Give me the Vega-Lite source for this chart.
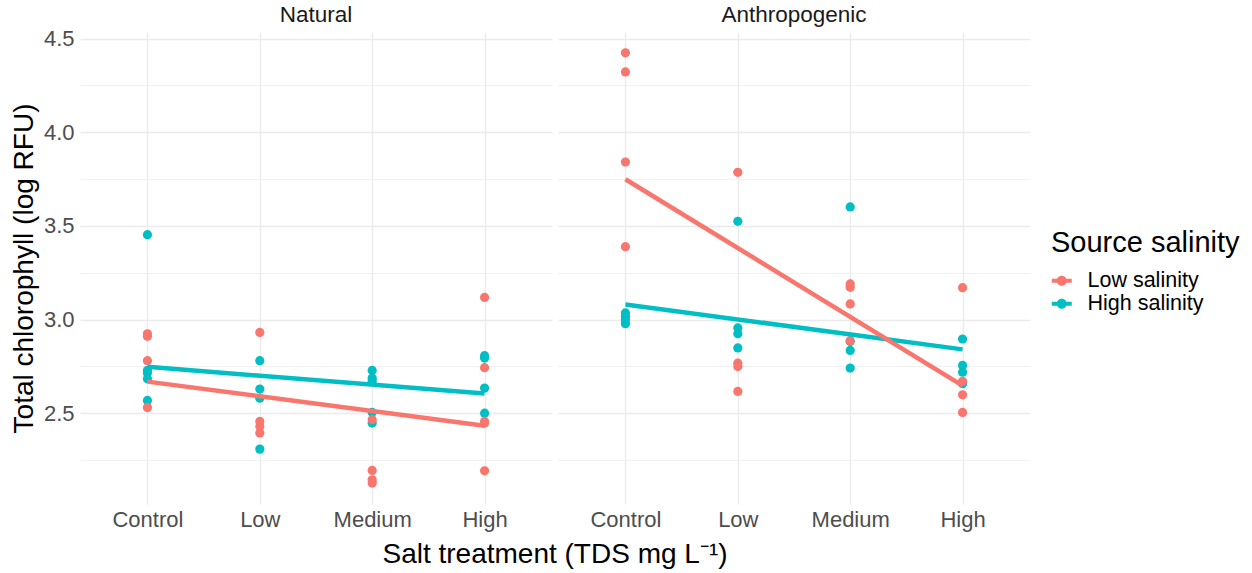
{
  "$schema": "https://vega.github.io/schema/vega-lite/v6.json",
  "background": "white",
  "padding": {"left": 10, "top": 3, "right": 0, "bottom": 0},
  "config": {
    "font": "Liberation Sans",
    "view": {"stroke": null},
    "axis": {
      "domain": false,
      "ticks": false,
      "labelColor": "#4d4d4d",
      "labelFontSize": 22,
      "labelFont": "Liberation Sans",
      "titleFont": "Liberation Sans",
      "titleFontSize": 28,
      "titleFontWeight": "normal",
      "titleColor": "#000000",
      "gridColor": "#ebebeb",
      "gridWidth": 1.4
    },
    "header": {
      "labelFont": "Liberation Sans",
      "labelFontSize": 22.5,
      "labelColor": "#1a1a1a",
      "titleFont": "Liberation Sans",
      "titleFontSize": 28,
      "titleFontWeight": "normal",
      "titleColor": "#000000"
    },
    "legend": {
      "titleFont": "Liberation Sans",
      "labelFont": "Liberation Sans"
    }
  },
  "data": {
    "values": [
      {"source": "Natural", "trt": 1, "treatment": "Control", "salinity": "High salinity", "chl": 3.453},
      {"source": "Natural", "trt": 1, "treatment": "Control", "salinity": "High salinity", "chl": 2.728},
      {"source": "Natural", "trt": 1, "treatment": "Control", "salinity": "High salinity", "chl": 2.714},
      {"source": "Natural", "trt": 1, "treatment": "Control", "salinity": "High salinity", "chl": 2.684},
      {"source": "Natural", "trt": 1, "treatment": "Control", "salinity": "High salinity", "chl": 2.568},
      {"source": "Natural", "trt": 2, "treatment": "Low", "salinity": "High salinity", "chl": 2.780},
      {"source": "Natural", "trt": 2, "treatment": "Low", "salinity": "High salinity", "chl": 2.629},
      {"source": "Natural", "trt": 2, "treatment": "Low", "salinity": "High salinity", "chl": 2.580},
      {"source": "Natural", "trt": 2, "treatment": "Low", "salinity": "High salinity", "chl": 2.308},
      {"source": "Natural", "trt": 3, "treatment": "Medium", "salinity": "High salinity", "chl": 2.728},
      {"source": "Natural", "trt": 3, "treatment": "Medium", "salinity": "High salinity", "chl": 2.687},
      {"source": "Natural", "trt": 3, "treatment": "Medium", "salinity": "High salinity", "chl": 2.670},
      {"source": "Natural", "trt": 3, "treatment": "Medium", "salinity": "High salinity", "chl": 2.504},
      {"source": "Natural", "trt": 3, "treatment": "Medium", "salinity": "High salinity", "chl": 2.447},
      {"source": "Natural", "trt": 4, "treatment": "High", "salinity": "High salinity", "chl": 2.807},
      {"source": "Natural", "trt": 4, "treatment": "High", "salinity": "High salinity", "chl": 2.794},
      {"source": "Natural", "trt": 4, "treatment": "High", "salinity": "High salinity", "chl": 2.634},
      {"source": "Natural", "trt": 4, "treatment": "High", "salinity": "High salinity", "chl": 2.500},
      {"source": "Anthropogenic", "trt": 1, "treatment": "Control", "salinity": "High salinity", "chl": 3.035},
      {"source": "Anthropogenic", "trt": 1, "treatment": "Control", "salinity": "High salinity", "chl": 3.017},
      {"source": "Anthropogenic", "trt": 1, "treatment": "Control", "salinity": "High salinity", "chl": 3.000},
      {"source": "Anthropogenic", "trt": 1, "treatment": "Control", "salinity": "High salinity", "chl": 2.978},
      {"source": "Anthropogenic", "trt": 2, "treatment": "Low", "salinity": "High salinity", "chl": 3.524},
      {"source": "Anthropogenic", "trt": 2, "treatment": "Low", "salinity": "High salinity", "chl": 2.955},
      {"source": "Anthropogenic", "trt": 2, "treatment": "Low", "salinity": "High salinity", "chl": 2.924},
      {"source": "Anthropogenic", "trt": 2, "treatment": "Low", "salinity": "High salinity", "chl": 2.848},
      {"source": "Anthropogenic", "trt": 3, "treatment": "Medium", "salinity": "High salinity", "chl": 3.601},
      {"source": "Anthropogenic", "trt": 3, "treatment": "Medium", "salinity": "High salinity", "chl": 2.883},
      {"source": "Anthropogenic", "trt": 3, "treatment": "Medium", "salinity": "High salinity", "chl": 2.835},
      {"source": "Anthropogenic", "trt": 3, "treatment": "Medium", "salinity": "High salinity", "chl": 2.741},
      {"source": "Anthropogenic", "trt": 4, "treatment": "High", "salinity": "High salinity", "chl": 2.896},
      {"source": "Anthropogenic", "trt": 4, "treatment": "High", "salinity": "High salinity", "chl": 2.755},
      {"source": "Anthropogenic", "trt": 4, "treatment": "High", "salinity": "High salinity", "chl": 2.719},
      {"source": "Anthropogenic", "trt": 4, "treatment": "High", "salinity": "High salinity", "chl": 2.657},
      {"source": "Natural", "trt": 1, "treatment": "Control", "salinity": "Low salinity", "chl": 2.924},
      {"source": "Natural", "trt": 1, "treatment": "Control", "salinity": "Low salinity", "chl": 2.910},
      {"source": "Natural", "trt": 1, "treatment": "Control", "salinity": "Low salinity", "chl": 2.780},
      {"source": "Natural", "trt": 1, "treatment": "Control", "salinity": "Low salinity", "chl": 2.530},
      {"source": "Natural", "trt": 2, "treatment": "Low", "salinity": "Low salinity", "chl": 2.931},
      {"source": "Natural", "trt": 2, "treatment": "Low", "salinity": "Low salinity", "chl": 2.456},
      {"source": "Natural", "trt": 2, "treatment": "Low", "salinity": "Low salinity", "chl": 2.429},
      {"source": "Natural", "trt": 2, "treatment": "Low", "salinity": "Low salinity", "chl": 2.394},
      {"source": "Natural", "trt": 3, "treatment": "Medium", "salinity": "Low salinity", "chl": 2.465},
      {"source": "Natural", "trt": 3, "treatment": "Medium", "salinity": "Low salinity", "chl": 2.194},
      {"source": "Natural", "trt": 3, "treatment": "Medium", "salinity": "Low salinity", "chl": 2.144},
      {"source": "Natural", "trt": 3, "treatment": "Medium", "salinity": "Low salinity", "chl": 2.127},
      {"source": "Natural", "trt": 4, "treatment": "High", "salinity": "Low salinity", "chl": 3.118},
      {"source": "Natural", "trt": 4, "treatment": "High", "salinity": "Low salinity", "chl": 2.743},
      {"source": "Natural", "trt": 4, "treatment": "High", "salinity": "Low salinity", "chl": 2.456},
      {"source": "Natural", "trt": 4, "treatment": "High", "salinity": "Low salinity", "chl": 2.447},
      {"source": "Natural", "trt": 4, "treatment": "High", "salinity": "Low salinity", "chl": 2.192},
      {"source": "Anthropogenic", "trt": 1, "treatment": "Control", "salinity": "Low salinity", "chl": 4.424},
      {"source": "Anthropogenic", "trt": 1, "treatment": "Control", "salinity": "Low salinity", "chl": 4.322},
      {"source": "Anthropogenic", "trt": 1, "treatment": "Control", "salinity": "Low salinity", "chl": 3.841},
      {"source": "Anthropogenic", "trt": 1, "treatment": "Control", "salinity": "Low salinity", "chl": 3.389},
      {"source": "Anthropogenic", "trt": 2, "treatment": "Low", "salinity": "Low salinity", "chl": 3.786},
      {"source": "Anthropogenic", "trt": 2, "treatment": "Low", "salinity": "Low salinity", "chl": 2.767},
      {"source": "Anthropogenic", "trt": 2, "treatment": "Low", "salinity": "Low salinity", "chl": 2.749},
      {"source": "Anthropogenic", "trt": 2, "treatment": "Low", "salinity": "Low salinity", "chl": 2.616},
      {"source": "Anthropogenic", "trt": 3, "treatment": "Medium", "salinity": "Low salinity", "chl": 3.190},
      {"source": "Anthropogenic", "trt": 3, "treatment": "Medium", "salinity": "Low salinity", "chl": 3.172},
      {"source": "Anthropogenic", "trt": 3, "treatment": "Medium", "salinity": "Low salinity", "chl": 3.083},
      {"source": "Anthropogenic", "trt": 3, "treatment": "Medium", "salinity": "Low salinity", "chl": 2.887},
      {"source": "Anthropogenic", "trt": 4, "treatment": "High", "salinity": "Low salinity", "chl": 3.170},
      {"source": "Anthropogenic", "trt": 4, "treatment": "High", "salinity": "Low salinity", "chl": 2.670},
      {"source": "Anthropogenic", "trt": 4, "treatment": "High", "salinity": "Low salinity", "chl": 2.598},
      {"source": "Anthropogenic", "trt": 4, "treatment": "High", "salinity": "Low salinity", "chl": 2.504}
    ]
  },
  "facet": {
    "column": {
      "field": "source",
      "type": "nominal",
      "sort": ["Natural", "Anthropogenic"],
      "title": "Salt treatment (TDS mg L⁻¹)",
      "header": {
        "labelOrient": "top",
        "titleOrient": "bottom",
        "labelPadding": 6,
        "titlePadding": 1
      }
    }
  },
  "spacing": 6,
  "spec": {
    "width": 472,
    "height": 472,
    "encoding": {
      "x": {
        "field": "trt",
        "type": "quantitative",
        "scale": {"domain": [0.4, 4.6], "nice": false, "zero": false},
        "axis": {
          "title": null,
          "values": [1, 2, 3, 4],
          "labelExpr": "['', 'Control', 'Low', 'Medium', 'High'][datum.value]",
          "labelPadding": 5,
          "grid": true
        }
      },
      "y": {
        "field": "chl",
        "type": "quantitative",
        "scale": {"domain": [2.015, 4.535], "nice": false, "zero": false},
        "axis": {
          "title": "Total chlorophyll (log RFU)",
          "values": [2.25, 2.5, 2.75, 3, 3.25, 3.5, 3.75, 4, 4.25, 4.5],
          "format": ".1f",
          "labelExpr": "datum.value % 0.5 == 0 ? datum.label : ''",
          "gridWidth": {"condition": {"test": "datum.value % 0.5 != 0", "value": 0.7}, "value": 1.4},
          "labelPadding": 6,
          "titlePadding": 5
        }
      },
      "color": {
        "field": "salinity",
        "type": "nominal",
        "scale": {"domain": ["Low salinity", "High salinity"], "range": ["#F8766D", "#00BFC4"]},
        "legend": {
          "title": "Source salinity",
          "orient": "none",
          "legendX": 971,
          "legendY": 197,
          "titleFontSize": 29,
          "titleFontWeight": "normal",
          "titleColor": "#000000",
          "titleLimit": 400,
          "titlePadding": 12,
          "labelFontSize": 21.5,
          "labelColor": "#000000",
          "labelLimit": 300,
          "labelOffset": 15,
          "rowPadding": 0,
          "symbolType": "M-1,-0.2H1V0.2H-1Z M0.5,0 A0.5,0.5 0 1,1 -0.5,0 A0.5,0.5 0 1,1 0.5,0 Z",
          "symbolSize": 400,
          "symbolStrokeWidth": 0,
          "symbolOpacity": 1
        }
      }
    },
    "layer": [
      {
        "mark": {"type": "point", "filled": true, "size": 85, "opacity": 1}
      },
      {
        "transform": [
          {"regression": "chl", "on": "trt", "groupby": ["source", "salinity"]}
        ],
        "mark": {"type": "line", "strokeWidth": 4.5}
      }
    ]
  }
}
